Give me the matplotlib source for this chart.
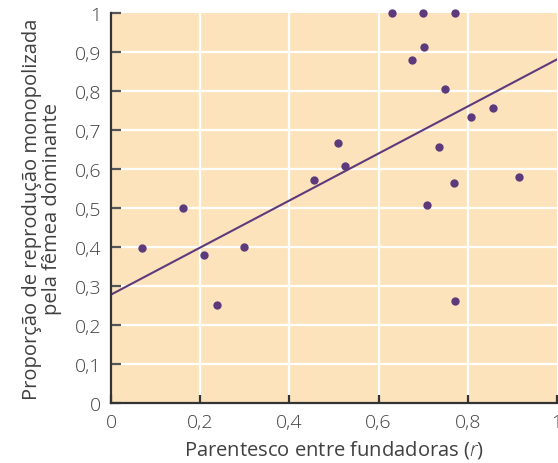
import numpy as np
from matplotlib import pyplot as plt

plt.rcParams['font.family'] = ['Open Sans', 'DejaVu Sans']
plt.rcParams['font.weight'] = 'light'
plt.rcParams['mathtext.fontset'] = 'custom'
plt.rcParams['mathtext.it'] = 'Open Sans:italic:light'
plt.rcParams['mathtext.rm'] = 'Open Sans:light'

# data
parentesco = [0.07, 0.162, 0.209, 0.238, 0.299, 0.456, 0.51, 0.524,
              0.631, 0.70, 0.771, 0.703, 0.674, 0.748, 0.735, 0.708,
              0.769, 0.771, 0.807, 0.856, 0.915]
proporcao = [0.397, 0.50, 0.38, 0.251, 0.40, 0.572, 0.667, 0.608,
             1.0, 1.0, 1.0, 0.913, 0.879, 0.806, 0.656, 0.508,
             0.564, 0.262, 0.733, 0.756, 0.579]
reta_intercepto = 0.278
reta_inclinacao = 0.603

xticks = [0, 0.2, 0.4, 0.6, 0.8, 1]
xtick_labels = ['0', '0,2', '0,4', '0,6', '0,8', '1']
yticks = [0, 0.1, 0.2, 0.3, 0.4, 0.5, 0.6, 0.7, 0.8, 0.9, 1]
ytick_labels = ['0', '0,1', '0,2', '0,3', '0,4', '0,5', '0,6',
                '0,7', '0,8', '0,9', '1']

bg = '#fde3bb'
roxo = '#5c3a7c'
texto = '#404040'

fig = plt.figure(figsize=(5.58, 4.64), dpi=100)
ax = fig.add_axes([0.199, 0.1293, 0.799, 0.8405])
ax.set_facecolor(bg)

# white grid
for v in xticks[1:-1]:
    ax.axvline(v, color='white', lw=1.6, zorder=1)
for h in yticks[1:-1]:
    ax.axhline(h, color='white', lw=1.6, zorder=1)

xs = np.array([0, 1])
ax.plot(xs, reta_intercepto + reta_inclinacao * xs, color=roxo, lw=1.5,
        zorder=3)
ax.plot(parentesco, proporcao, 'o', color=roxo, ms=6, mec='none',
        clip_on=False, zorder=4)

ax.set_xlim(0, 1)
ax.set_ylim(0, 1)
ax.set_xticks(xticks)
ax.set_xticklabels(xtick_labels)
ax.set_yticks(yticks)
ax.set_yticklabels(ytick_labels)

for s in ['top', 'right']:
    ax.spines[s].set_visible(False)
for s in ['left', 'bottom']:
    ax.spines[s].set_color('#333333')
    ax.spines[s].set_linewidth(1.6)
    ax.spines[s].set_zorder(5)

ax.tick_params(axis='y', direction='in', length=7, width=1.6,
               color='#555555', labelsize=14, labelcolor=texto, pad=7)
ax.tick_params(axis='x', direction='in', length=6, width=1.6,
               color='#333333', labelsize=14, labelcolor=texto, pad=7)

ax.set_xlabel('Parentesco entre fundadoras ($r$)', fontsize=14.5,
              color=texto, labelpad=5)
ax.set_ylabel('Proporção de reprodução monopolizada\npela fêmea dominante',
              fontsize=14.5, color=texto, labelpad=9, linespacing=1.0)

fig.savefig('out.png', dpi=100, facecolor='white')
